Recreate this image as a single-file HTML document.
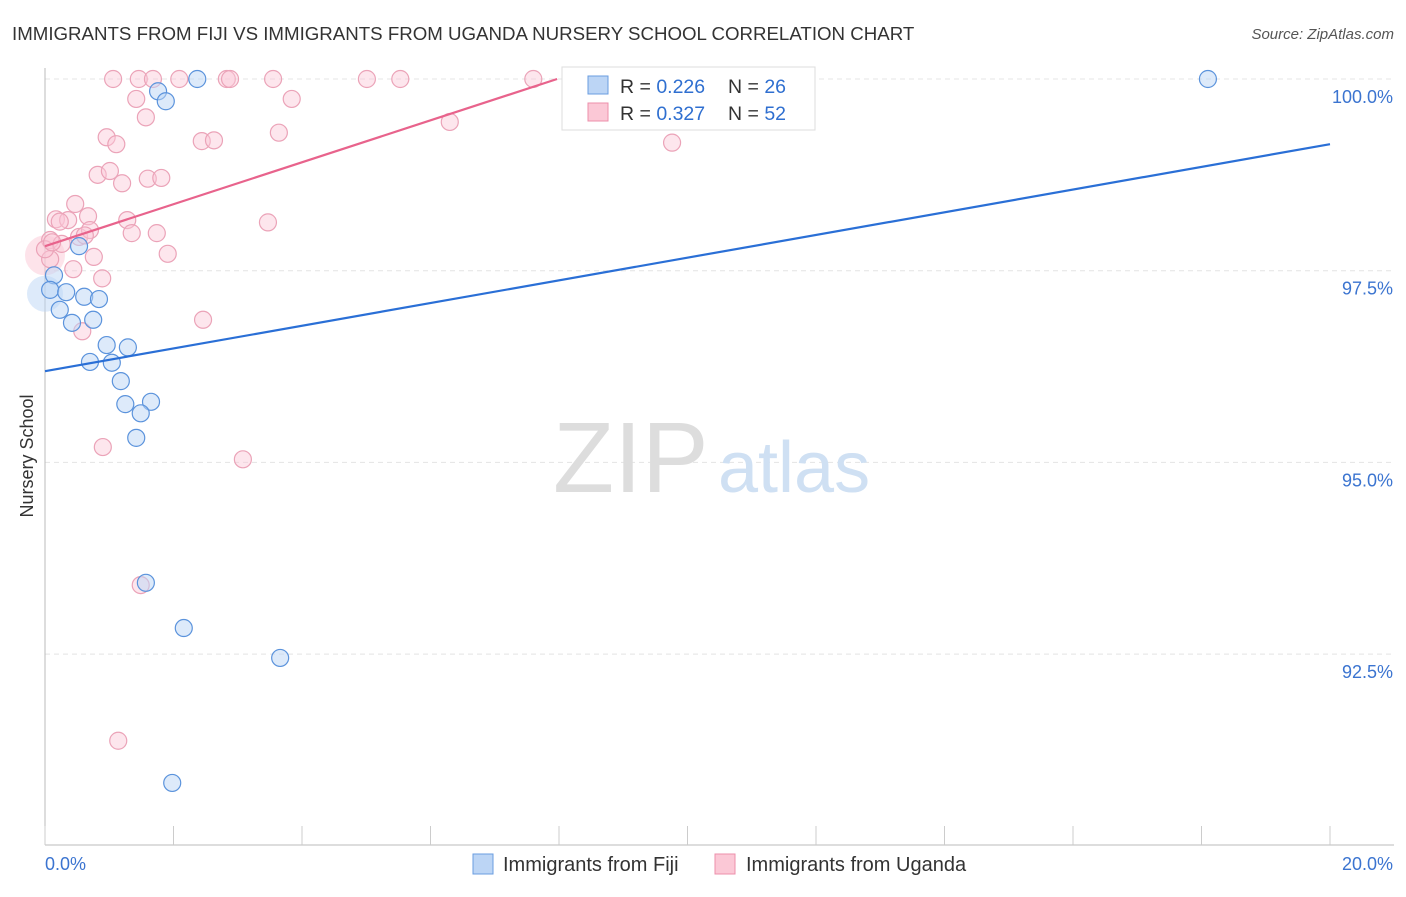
<!DOCTYPE html>
<html><head><meta charset="utf-8"><style>
body{margin:0;background:#fff;font-family:"Liberation Sans",sans-serif}
svg text{font-family:"Liberation Sans",sans-serif}
</style></head><body>
<svg id="chart" width="1406" height="892" xmlns="http://www.w3.org/2000/svg">
<text x="12" y="40" font-size="18.7" fill="#333">IMMIGRANTS FROM FIJI VS IMMIGRANTS FROM UGANDA NURSERY SCHOOL CORRELATION CHART</text>
<text x="1394" y="39" font-size="15" fill="#555" text-anchor="end" font-style="italic">Source: ZipAtlas.com</text>
<text x="33" y="456" font-size="18" fill="#333" text-anchor="middle" transform="rotate(-90 33 456)">Nursery School</text>
<g id="grid"></g>
<text x="553" y="492" font-size="100" fill="#ddd" font-family="Liberation Serif">ZIP</text>
<text x="718" y="492" font-size="72" fill="#cfe0f3">atlas</text>
<g id="pts"></g>
<g id="lines"></g>
<g>
<rect x="562" y="67" width="253" height="63" fill="#fff" stroke="#ddd"/>
<rect x="588" y="76" width="20" height="18" fill="#bcd5f5" stroke="#6a9de0"/>
<text x="620" y="93" font-size="19.5" fill="#333">R = <tspan fill="#2f6fd0">0.226</tspan></text>
<text x="728" y="93" font-size="19.5" fill="#333">N = <tspan fill="#2f6fd0">26</tspan></text>
<rect x="588" y="103" width="20" height="18" fill="#fbc8d6" stroke="#ec8fab"/>
<text x="620" y="120" font-size="19.5" fill="#333">R = <tspan fill="#2f6fd0">0.327</tspan></text>
<text x="728" y="120" font-size="19.5" fill="#333">N = <tspan fill="#2f6fd0">52</tspan></text>
</g>
<g>
<rect x="473" y="854" width="20" height="20" fill="#bcd5f5" stroke="#6a9de0"/>
<text x="503" y="871" font-size="20" fill="#333">Immigrants from Fiji</text>
<rect x="715" y="854" width="20" height="20" fill="#fbc8d6" stroke="#ec8fab"/>
<text x="746" y="871" font-size="20" fill="#333">Immigrants from Uganda</text>
</g>
</svg>
<script>
const yTicks=[100,97.5,95,92.5];
const yTickLabels=["100.0%","97.5%","95.0%","92.5%"];
const xTickLabels=["0.0%","20.0%"];
const fijiX=[2.37,18.10,1.76,1.88,0.53,0.14,0.08,0.33,0.61,0.84,0.23,0.42,0.75,0.96,1.29,0.70,1.04,1.18,1.25,1.65,1.49,1.42,1.57,2.16,3.66,1.98];
const fijiY=[100,100,99.84,99.71,97.82,97.44,97.25,97.22,97.16,97.13,96.99,96.82,96.86,96.53,96.50,96.31,96.30,96.06,95.76,95.79,95.64,95.32,93.43,92.84,92.45,90.82];
const ugX=[1.06,1.46,1.68,2.09,2.83,2.88,3.55,5.01,5.53,7.60,1.42,3.84,1.57,6.30,0.96,1.11,2.44,2.63,3.64,9.76,0.82,1.01,1.20,1.60,1.81,0.47,0.17,0.36,0.67,1.28,3.47,0.08,0.26,0.53,0.70,1.35,1.74,1.91,0.76,0.44,0.89,0.58,2.46,0.90,3.08,1.49,1.14,0.08,0.23,0.62,0,0.11];
const ugY=[100,100,100,100,100,100,100,100,100,100,99.74,99.74,99.50,99.44,99.24,99.15,99.19,99.20,99.30,99.17,98.75,98.80,98.64,98.70,98.71,98.37,98.17,98.16,98.21,98.16,98.13,97.90,97.85,97.94,98.03,97.99,97.99,97.72,97.68,97.52,97.40,96.71,96.86,95.20,95.04,93.40,91.37,97.65,98.14,97.96,97.78,97.87];
const fijiTrend=[96.19,99.15];
const ugTrend=[97.82,0.2735];
const NS="http://www.w3.org/2000/svg";
const X0=45,X1=1330,Y100=79,PX_PER=76.68;
const sx=v=>X0+v/20*(X1-X0);
const sy=v=>Y100+(100-v)*PX_PER;
function mk(t,a,p){const e=document.createElementNS(NS,t);for(const k in a)e.setAttribute(k,a[k]);p.appendChild(e);return e;}
const grid=document.getElementById('grid');
yTicks.forEach((t,i)=>{
 const l=mk('line',{x1:45,x2:1394,y1:sy(t),y2:sy(t),stroke:'#e4e4e4','stroke-dasharray':'5,4'},grid);
 
 
 const tx=mk('text',{x:1393,y:sy(t)+24,'font-size':18,fill:'#3b74d0','text-anchor':'end'},grid);
 tx.textContent=yTickLabels[i];
 
 
});
const ax=mk('line',{x1:45,x2:45,y1:68,y2:845,stroke:'#bbb'},grid);


const bx=mk('line',{x1:45,x2:1394,y1:845,y2:845,stroke:'#bbb'},grid);


for(let i=0;i<=10;i++){const t=mk('line',{x1:sx(i*2),x2:sx(i*2),y1:826,y2:845,stroke:'#ccc'},grid);
 
 }
[[0,'start',45],[20,'end',1393]].forEach((d,i)=>{const t=mk('text',{x:d[2],y:870,'font-size':18,fill:'#3b74d0','text-anchor':d[1]},grid);t.textContent=xTickLabels[i];
 
 });
const pts=document.getElementById('pts');
mk('circle',{cx:sx(0),cy:sy(97.7),r:20,fill:'rgba(251,200,214,0.5)',stroke:'none'},pts);
mk('circle',{cx:sx(0),cy:sy(97.2),r:18,fill:'rgba(188,213,245,0.5)',stroke:'none'},pts);
ugX.forEach((x,i)=>{const c=mk('circle',{cx:sx(x),cy:sy(ugY[i]),r:8.5,fill:'rgba(251,200,214,0.45)',stroke:'#eba3b8','stroke-width':1.2},pts);
 
 });
fijiX.forEach((x,i)=>{const c=mk('circle',{cx:sx(x),cy:sy(fijiY[i]),r:8.5,fill:'rgba(188,213,245,0.5)',stroke:'#5b93dc','stroke-width':1.2},pts);
 
 });
const lines=document.getElementById('lines');
const fl=mk('line',{x1:sx(0),y1:sy(fijiTrend[0]),x2:sx(20),y2:sy(fijiTrend[1]),stroke:'#2a6fd6','stroke-width':2.2},lines);


const xe=(100-ugTrend[0])/ugTrend[1];
const ul=mk('line',{x1:sx(0),y1:sy(ugTrend[0]),x2:sx(xe),y2:sy(100),stroke:'#e8638c','stroke-width':2.2},lines);


</script>
</body></html>
